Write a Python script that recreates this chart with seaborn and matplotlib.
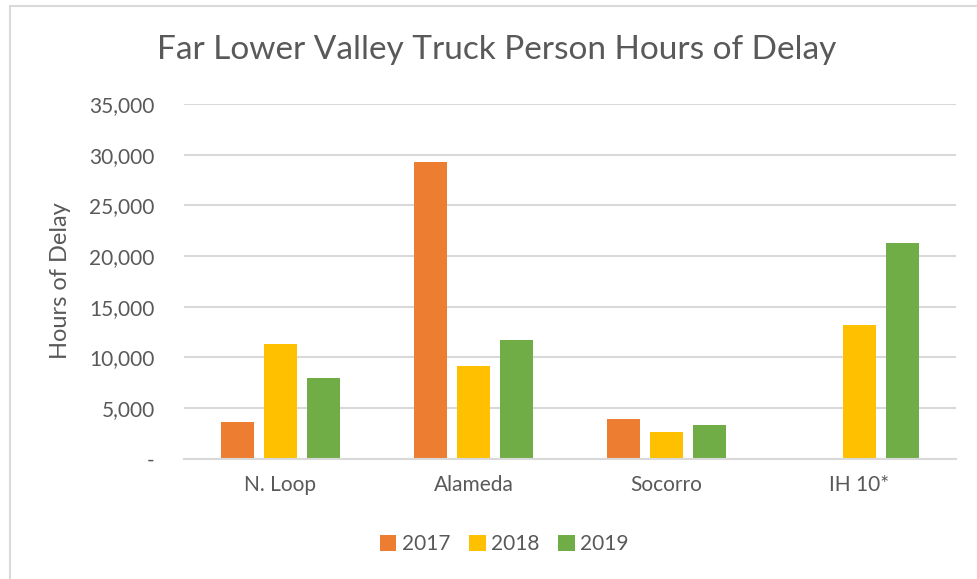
import matplotlib
matplotlib.use("Agg")
import matplotlib.pyplot as plt
import seaborn as sns
import pandas as pd
from matplotlib.ticker import FuncFormatter
from matplotlib.lines import Line2D

categories = ["N. Loop", "Alameda", "Socorro", "IH 10*"]
years = ["2017", "2018", "2019"]
values_2017 = [3600, 29250, 3950, None]
values_2018 = [11350, 9100, 2640, 13150]
values_2019 = [8000, 11700, 3330, 21330]
colors = ["#ED7D31", "#FFC000", "#70AD47"]

rows = []
for yr, vals in zip(years, [values_2017, values_2018, values_2019]):
    for c, v in zip(categories, vals):
        rows.append({"Location": c, "Year": yr, "Hours": v})
df = pd.DataFrame(rows)

sns.set_theme(style="white")
plt.rcParams["font.family"] = ["Lato", "DejaVu Sans"]
text_color = "#595959"
grid_color = "#D9D9D9"

fig = plt.figure(figsize=(9.77, 5.79), dpi=100)
ax = fig.add_axes([184 / 977, 1 - 458.7 / 579, (956 - 184) / 977, (458.7 - 104) / 579])

sns.barplot(data=df, x="Location", y="Hours", hue="Year", order=categories,
            hue_order=years, palette=colors, width=0.67, gap=0.22,
            linewidth=0, saturation=1, ax=ax, legend=True)

ax.set_xlim(-0.5, 3.5)
ax.set_ylim(0, 35000)
ax.set_yticks(range(0, 35001, 5000))
ax.yaxis.set_major_formatter(FuncFormatter(lambda v, p: "-" if v == 0 else f"{int(v):,}"))
ax.grid(axis="y", color=grid_color, linewidth=1.5)
ax.set_axisbelow(True)
for s in ["top", "right", "left"]:
    ax.spines[s].set_visible(False)
ax.spines["bottom"].set_color(grid_color)
ax.spines["bottom"].set_linewidth(1.5)
ax.tick_params(axis="y", length=0, pad=21, labelsize=15, labelcolor=text_color)
ax.tick_params(axis="x", length=0, pad=12, labelsize=15, labelcolor=text_color)
ax.set_xlabel("")
ax.set_ylabel("Hours of Delay", fontsize=17, color=text_color)
ax.yaxis.set_label_coords(71 / 977, 1 - 281 / 579, transform=fig.transFigure)

fig.suptitle("Far Lower Valley Truck Person Hours of Delay", x=497 / 977, y=1 - 50 / 579,
             va="center", fontsize=24, color=text_color)

leg = ax.legend(loc="center", bbox_to_anchor=(504 / 977, 1 - 544 / 579),
                bbox_transform=fig.transFigure, ncol=3, frameon=False,
                fontsize=15, handlelength=0.8, handleheight=0.8, handletextpad=0.25,
                columnspacing=0.9)
for t in leg.get_texts():
    t.set_color(text_color)

fig.add_artist(Line2D([9.5 / 977, 9.5 / 977], [0, 1 - 5.5 / 579], transform=fig.transFigure,
                      color=grid_color, linewidth=1.5))
fig.add_artist(Line2D([9.5 / 977, 1], [1 - 5.5 / 579, 1 - 5.5 / 579], transform=fig.transFigure,
                      color=grid_color, linewidth=1.5))

fig.savefig("out.png", dpi=100)
